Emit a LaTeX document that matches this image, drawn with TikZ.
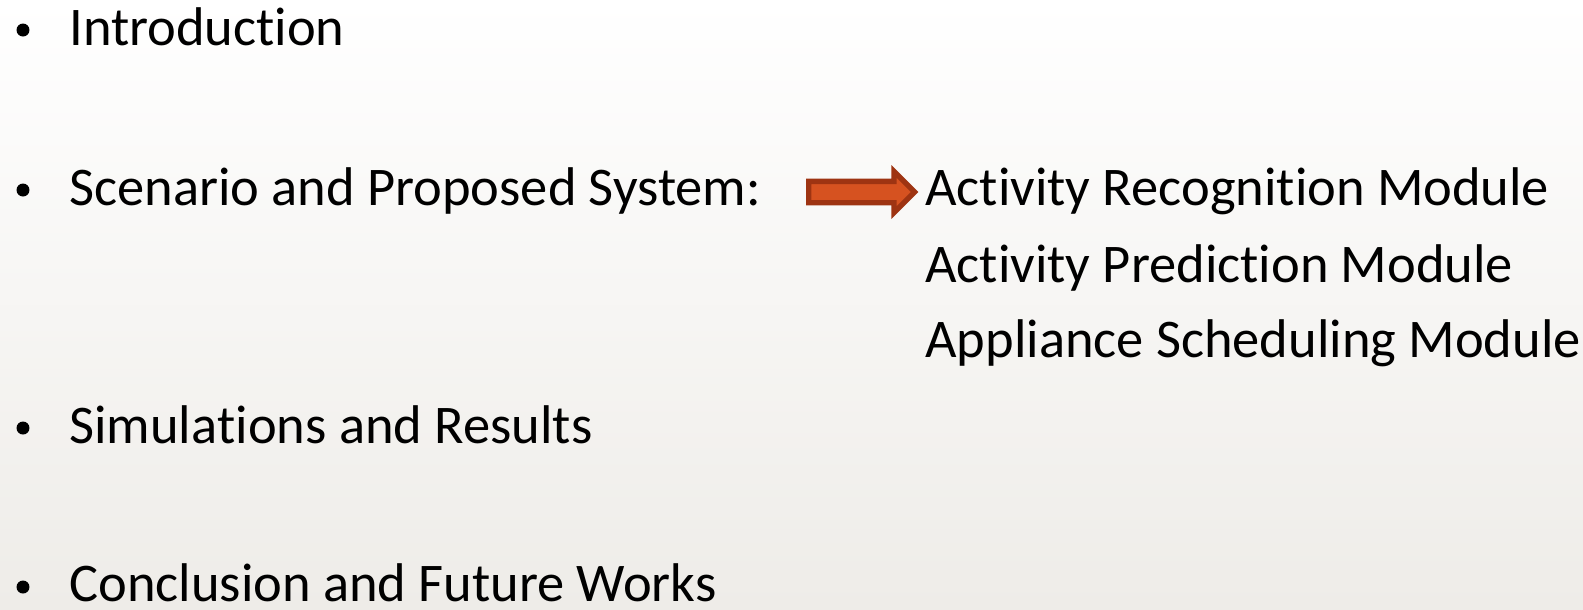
\documentclass[tikz,border=0pt]{standalone}
\usepackage{fontspec}
\setmainfont{Carlito}
\usetikzlibrary{shapes.arrows, positioning}
\definecolor{bgbottom}{RGB}{238,236,232}
\definecolor{bgmiddle}{RGB}{250,249,248}
\definecolor{arrowfill}{RGB}{214,82,32}
\definecolor{arrowline}{RGB}{158,52,18}
% keep t and i apart (no ligature)
\newcommand{\tiglyph}{\mbox{t}i}

\begin{document}
\begin{tikzpicture}[x=0.02cm, y=-0.02cm]
\tikzstyle{item} = [anchor=base west, inner sep=0pt, font=\fontsize{31}{37}\selectfont]
\tikzstyle{dot} = [anchor=center, circle, fill=black, inner sep=0pt, minimum size=0.26cm]
\tikzstyle{bigarrow} = [single arrow, draw=arrowline, fill=arrowfill, line width=3pt,
    inner sep=0pt, inner ysep=0.16cm, minimum width=0pt, minimum height=2.12cm,
    single arrow head extend=0.2cm, anchor=tail]
    % background
    \shade[top color=white, middle color=bgmiddle, bottom color=bgbottom] (0,0) rectangle (1583,609);
    \useasboundingbox (0,0) rectangle (1583,609);

    % Place nodes
    \node [dot] (b1) at (23,30) {};
    \node [item] (intro) at (69,45) {Introduc\tiglyph on};
    \node [dot] (b2) at (23,190) {};
    \node [item] (scen) at (69,205) {Scenario and Proposed System:};
    \node [dot] (b3) at (23,428) {};
    \node [item] (simu) at (69,443) {Simula\tiglyph ons and Results};
    \node [dot] (b4) at (23,587) {};
    \node [item] (concl) at (69,601) {Conclusion and Future Works};

    \node [item] (recog) at (925,205) {Ac\tiglyph vity Recogni\tiglyph on Module};
    \node [item] (pred) at (925,282) {Ac\tiglyph vity Predic\tiglyph on Module};
    \node [item] (sched) at (925,357) {Appliance Scheduling Module};

%paths
    \node [bigarrow] (arr) at (806,192) {};

\end{tikzpicture}
\end{document}
